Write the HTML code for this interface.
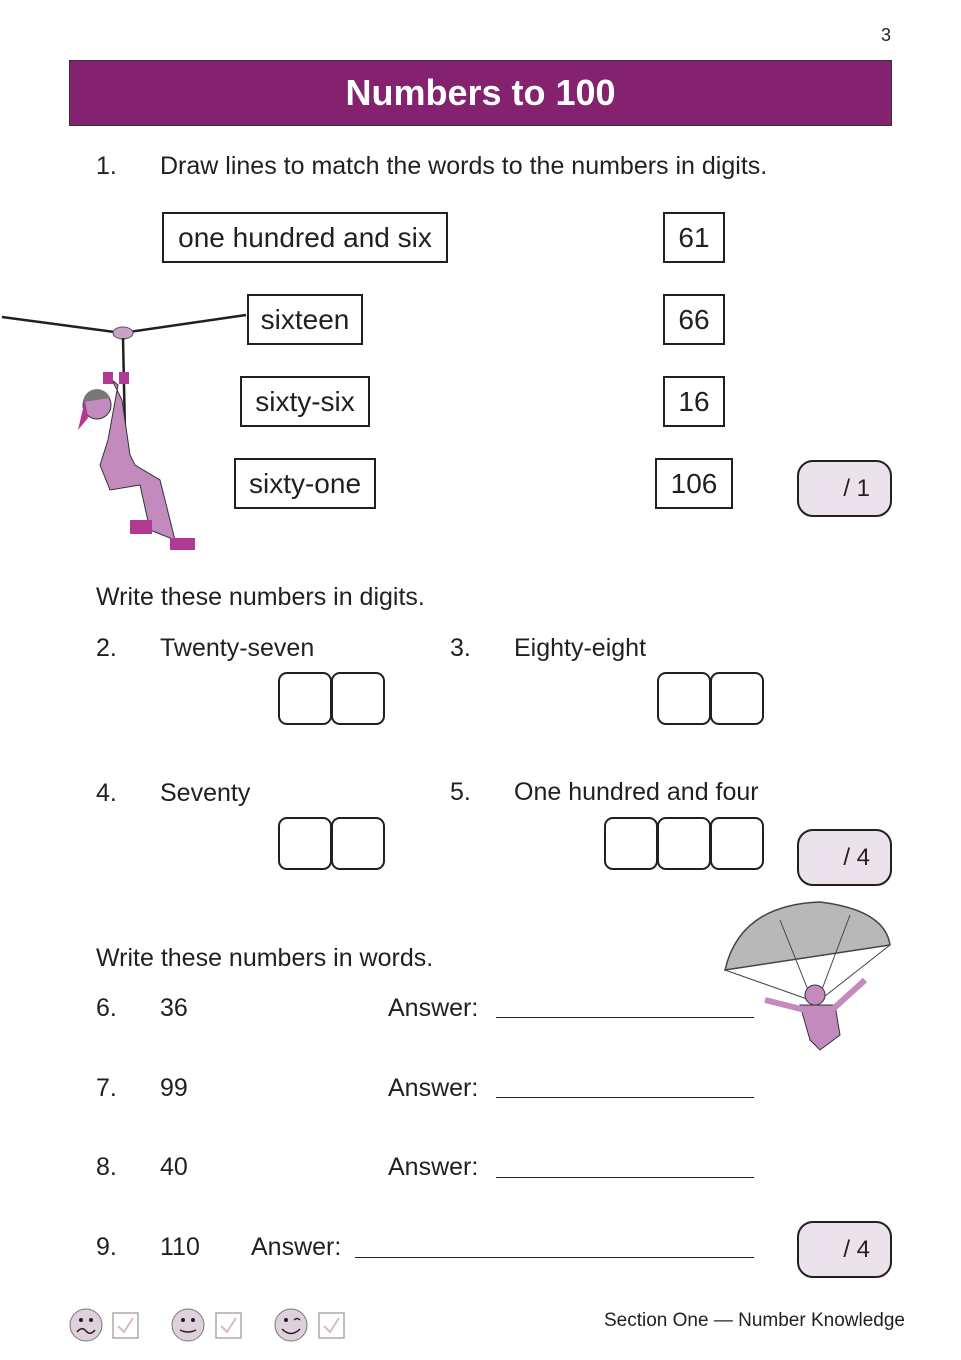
<!DOCTYPE html>
<html><head><meta charset="utf-8"><style>
body{margin:0;background:#fff;}
#p{position:relative;width:961px;height:1360px;overflow:hidden;font-family:"Liberation Sans",sans-serif;color:#231f20;}
.t{position:absolute;font-size:25px;line-height:30px;white-space:nowrap;}
.b{position:absolute;border:2px solid #231f20;box-sizing:border-box;font-size:28px;display:flex;align-items:center;justify-content:center;}
.s{position:absolute;border:2px solid #231f20;border-radius:16px;background:#ebe2ec;box-sizing:border-box;font-size:24px;display:flex;align-items:center;justify-content:flex-end;padding-right:20px;}
.d{position:absolute;width:54px;height:53px;border:2px solid #231f20;border-radius:9px;box-sizing:border-box;}
.l{position:absolute;border-top:1.5px solid #231f20;}
</style></head><body><div id="p">
<div class="t" style="left:881px;top:20px;font-size:18px">3</div>
<div style="position:absolute;left:69px;top:60px;width:823px;height:66px;background:#84226f;border:1.5px solid #333;box-sizing:border-box;color:#fff;font-weight:bold;font-size:36px;display:flex;align-items:center;justify-content:center;">Numbers to 100</div>
<div class="t" style="left:96px;top:151px">1.</div>
<div class="t" style="left:160px;top:151px">Draw lines to match the words to the numbers in digits.</div>
<div class="b" style="left:162px;top:212px;width:286px;height:51px">one hundred and six</div>
<div class="b" style="left:247px;top:294px;width:116px;height:51px">sixteen</div>
<div class="b" style="left:240px;top:376px;width:130px;height:51px">sixty-six</div>
<div class="b" style="left:234px;top:458px;width:142px;height:51px">sixty-one</div>
<div class="b" style="left:663px;top:212px;width:62px;height:51px">61</div>
<div class="b" style="left:663px;top:294px;width:62px;height:51px">66</div>
<div class="b" style="left:663px;top:376px;width:62px;height:51px">16</div>
<div class="b" style="left:655px;top:458px;width:78px;height:51px">106</div>
<div class="s" style="left:797px;top:460px;width:95px;height:57px">/ 1</div>
<div class="s" style="left:797px;top:829px;width:95px;height:57px">/ 4</div>
<div class="s" style="left:797px;top:1221px;width:95px;height:57px">/ 4</div>
<svg style="position:absolute;left:0;top:290px" width="260" height="270">
<polyline points="2,27 122,43 246,25" fill="none" stroke="#231f20" stroke-width="2.5"/>
<ellipse cx="123" cy="43" rx="10" ry="6" fill="#c9a2c4" stroke="#555"/>
<line x1="123" y1="48" x2="126" y2="190" stroke="#231f20" stroke-width="2.5"/>
<path d="M112,90 L118,95 L108,150 L100,175 L110,200 L140,195 L150,240 L175,250 L160,190 L135,175 L130,165 L122,110 Z" fill="#c38bbd" stroke="#333"/>
<circle cx="97" cy="115" r="14" fill="#c38bbd" stroke="#333"/>
<path d="M83,112 A14,14 0 0 1 110,108 Z" fill="#777"/>
<path d="M85,110 L78,140 L88,128 Z" fill="#b03a91"/>
<rect x="130" y="230" width="22" height="14" fill="#b03a91"/>
<rect x="170" y="248" width="25" height="12" fill="#b03a91"/>
<rect x="103" y="82" width="10" height="12" fill="#b03a91"/><rect x="119" y="82" width="10" height="12" fill="#b03a91"/>
</svg>
<div class="t" style="left:96px;top:582px">Write these numbers in digits.</div>
<div class="t" style="left:96px;top:633px">2.</div><div class="t" style="left:160px;top:633px">Twenty-seven</div>
<div class="t" style="left:450px;top:633px">3.</div><div class="t" style="left:514px;top:633px">Eighty-eight</div>
<div class="t" style="left:96px;top:778px">4.</div><div class="t" style="left:160px;top:778px">Seventy</div>
<div class="t" style="left:450px;top:777px">5.</div><div class="t" style="left:514px;top:777px">One hundred and four</div>
<div class="d" style="left:278px;top:672px"></div><div class="d" style="left:331px;top:672px"></div>
<div class="d" style="left:657px;top:672px"></div><div class="d" style="left:710px;top:672px"></div>
<div class="d" style="left:278px;top:817px"></div><div class="d" style="left:331px;top:817px"></div>
<div class="d" style="left:604px;top:817px"></div><div class="d" style="left:657px;top:817px"></div><div class="d" style="left:710px;top:817px"></div>
<svg style="position:absolute;left:720px;top:900px" width="175" height="160">
<path d="M5,70 Q20,5 100,2 Q165,10 170,45 Z" fill="#b8b8b8" stroke="#444" stroke-width="1.5"/>
<g stroke="#444" fill="none"><line x1="5" y1="70" x2="90" y2="100"/><line x1="170" y1="45" x2="100" y2="100"/><line x1="60" y1="20" x2="92" y2="100"/><line x1="130" y1="15" x2="98" y2="100"/></g>
<circle cx="95" cy="95" r="10" fill="#c38bbd" stroke="#333"/>
<path d="M80,105 L115,105 L120,135 L100,150 L90,140 Z" fill="#c38bbd" stroke="#333"/>
<line x1="45" y1="100" x2="85" y2="110" stroke="#c38bbd" stroke-width="6"/>
<line x1="145" y1="80" x2="112" y2="110" stroke="#c38bbd" stroke-width="6"/>
</svg>
<div class="t" style="left:96px;top:943px">Write these numbers in words.</div>
<div class="t" style="left:96px;top:993px">6.</div><div class="t" style="left:160px;top:993px">36</div><div class="t" style="left:388px;top:993px">Answer:</div><div class="l" style="left:496px;top:1017px;width:258px"></div>
<div class="t" style="left:96px;top:1073px">7.</div><div class="t" style="left:160px;top:1073px">99</div><div class="t" style="left:388px;top:1073px">Answer:</div><div class="l" style="left:496px;top:1097px;width:258px"></div>
<div class="t" style="left:96px;top:1152px">8.</div><div class="t" style="left:160px;top:1152px">40</div><div class="t" style="left:388px;top:1152px">Answer:</div><div class="l" style="left:496px;top:1177px;width:258px"></div>
<div class="t" style="left:96px;top:1232px">9.</div><div class="t" style="left:160px;top:1232px">110</div><div class="t" style="left:251px;top:1232px">Answer:</div><div class="l" style="left:355px;top:1257px;width:399px"></div>
<svg style="position:absolute;left:60px;top:1300px" width="300" height="50">
<g fill="#e0cfdd" stroke="#777"><circle cx="26" cy="25" r="16"/><circle cx="128" cy="25" r="16"/><circle cx="231" cy="25" r="16"/></g>
<g fill="none" stroke="#aaa" stroke-width="1.5"><rect x="53" y="13" width="25" height="25"/><rect x="156" y="13" width="25" height="25"/><rect x="259" y="13" width="25" height="25"/></g>
<g fill="none" stroke="#d8b8d0" stroke-width="2"><polyline points="58,26 64,32 73,18"/><polyline points="161,26 167,32 176,18"/><polyline points="264,26 270,32 279,18"/></g>
<g fill="#231f20"><circle cx="21" cy="20" r="2"/><circle cx="31" cy="20" r="2"/><circle cx="123" cy="20" r="2"/><circle cx="133" cy="20" r="2"/><circle cx="226" cy="20" r="2"/></g>
<g fill="none" stroke="#231f20" stroke-width="1.5"><path d="M17,32 Q22,26 26,31 Q30,36 35,30"/><path d="M120,30 Q128,34 136,30"/><path d="M222,29 Q231,38 240,29"/><path d="M234,20 Q237,17 240,20"/></g>
</svg>
<div class="t" style="left:604px;top:1306px;font-size:19px">Section One — Number Knowledge</div>
</div></body></html>
